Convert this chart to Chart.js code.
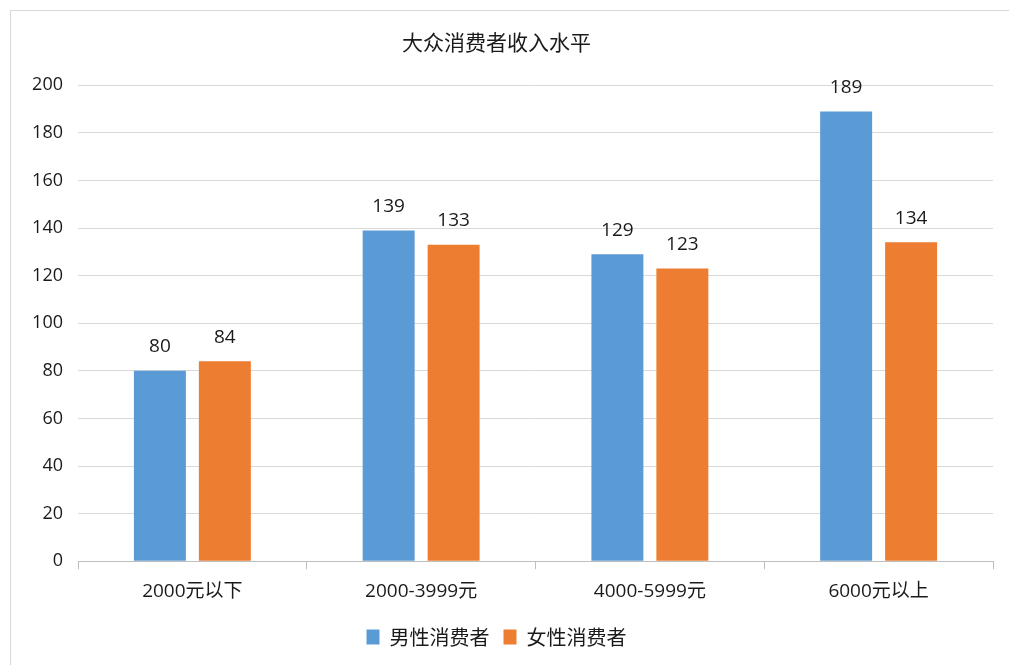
<!DOCTYPE html>
<html>
<head>
<meta charset="utf-8">
<script src="https://cdn.jsdelivr.net/npm/chart.js@4.4.0/dist/chart.umd.min.js"></script>
<style>
  html, body { margin: 0; padding: 0; background: #fff; }
  #frame { position: absolute; left: 10px; top: 10px; width: 1009px; height: 665px; border-left: 1px solid #d9d9d9; border-top: 1px solid #d9d9d9; }
  #wrap { position: absolute; left: 0; top: 0; width: 1009px; height: 665px; }
</style>
</head>
<body>
<div id="frame"></div>
<div id="wrap"><canvas id="incomeChart"></canvas></div>
<script>
const categories = ['2000元以下', '2000-3999元', '4000-5999元', '6000元以上'];
const maleValues = [80, 139, 129, 189];
const femaleValues = [84, 133, 123, 134];
const yTicks = [0, 20, 40, 60, 80, 100, 120, 140, 160, 180, 200];

const fontFamily = '"Open Sans", "Noto Sans CJK SC", sans-serif';

// draws value labels above each bar
const barLabels = {
  id: 'barLabels',
  afterDatasetsDraw(chart) {
    const ctx = chart.ctx;
    ctx.save();
    ctx.font = '19px ' + fontFamily;
    ctx.fillStyle = '#1a1a1a';
    ctx.textAlign = 'center';
    ctx.textBaseline = 'middle';
    chart.data.datasets.forEach((ds, i) => {
      chart.getDatasetMeta(i).data.forEach((bar, j) => {
        ctx.fillText(ds.data[j], bar.x, bar.y - 24);
      });
    });
    ctx.restore();
  }
};

new Chart(document.getElementById('incomeChart').getContext('2d'), {
  type: 'bar',
  data: {
    labels: categories,
    datasets: [
      { label: '男性消费者', data: maleValues, backgroundColor: '#5b9bd5' },
      { label: '女性消费者', data: femaleValues, backgroundColor: '#ed7d31' }
    ]
  },
  options: {
    responsive: true,
    maintainAspectRatio: false,
    animation: false,
    categoryPercentage: 0.568,
    barPercentage: 0.8,
    layout: { padding: { left: 0, right: 16, top: 0, bottom: 8 } },
    plugins: {
      title: {
        display: true,
        text: '大众消费者收入水平',
        color: '#1a1a1a',
        font: { family: '"Noto Sans CJK SC", sans-serif', size: 21, weight: 'normal' },
        padding: { top: 29, bottom: 31 }
      },
      legend: {
        position: 'bottom',
        labels: {
          color: '#1a1a1a',
          boxWidth: 13,
          boxHeight: 15,
          padding: 14,
          font: { family: '"Noto Sans CJK SC", sans-serif', size: 20 }
        }
      },
      tooltip: { enabled: false }
    },
    scales: {
      x: {
        grid: { offset: true, drawOnChartArea: false, color: '#bfbfbf', tickLength: 8 },
        border: { color: '#bfbfbf' },
        ticks: {
          color: '#1a1a1a',
          padding: 10.5,
          font: { family: fontFamily, size: 19 }
        }
      },
      y: {
        min: 0,
        max: 200,
        afterFit: scale => { scale.width = 78; },
        afterBuildTicks: scale => { scale.ticks = yTicks.map(v => ({ value: v })); },
        grid: { color: '#d9d9d9', drawTicks: false },
        border: { display: false },
        ticks: {
          color: '#1a1a1a',
          padding: 15,
          font: { family: fontFamily, size: 18 }
        }
      }
    }
  },
  plugins: [barLabels]
});
</script>
</body>
</html>
